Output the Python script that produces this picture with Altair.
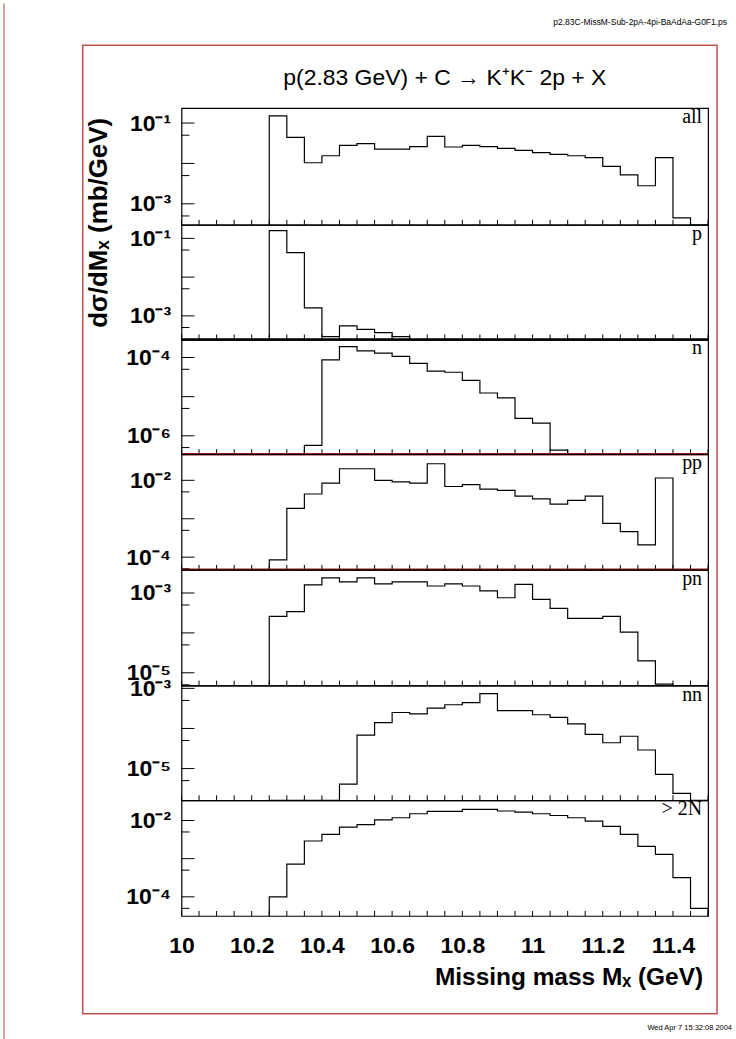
import math
import altair as alt
import pandas as pd

# ---------------- data ----------------
BIN_EDGES = [10.25, 10.30, 10.35, 10.40, 10.45, 10.50, 10.55, 10.60, 10.65,
             10.70, 10.75, 10.80, 10.85, 10.90, 10.95, 11.00, 11.05, 11.10,
             11.15, 11.20, 11.25, 11.30, 11.35, 11.40, 11.45, 11.50]

ALL = [0.15, 0.044, 0.0104, 0.0155, 0.028, 0.031, 0.0225, 0.0225, 0.026, 0.047,
       0.0255, 0.028, 0.026, 0.0235, 0.021, 0.0185, 0.0168, 0.0155, 0.014, 0.0085,
       0.0052, 0.0028, 0.014, 0.00045, 0]
P = [0.158, 0.043, 0.0016, 0.00029, 0.00055, 0.00045, 0.00037, 0.00029, 0, 0,
     0, 0, 0, 0, 0, 0, 0, 0, 0, 0, 0, 0, 0, 0, 0]
N = [0, 0, 5.7e-7, 8.7e-5, 1.9e-4, 1.48e-4, 1.3e-4, 1.07e-4, 7.1e-5, 4.5e-5,
     4.2e-5, 2.6e-5, 1.24e-5, 9.3e-6, 2.8e-6, 2.1e-6, 4.3e-7, 0, 0, 0,
     0, 0, 0, 0, 0]
PP = [8.5e-5, 1.87e-3, 4.4e-3, 8.5e-3, 0.020, 0.020, 0.010, 9.1e-3, 8.5e-3, 0.027,
      6.9e-3, 7.7e-3, 5.9e-3, 5.5e-3, 3.9e-3, 3.3e-3, 2.4e-3, 3.0e-3, 3.9e-3, 7.6e-4,
      4.6e-4, 2.1e-4, 0.0115, 0, 0]
PN = [2.6e-4, 3.4e-4, 1.6e-3, 2.4e-3, 1.9e-3, 2.4e-3, 1.7e-3, 1.9e-3, 1.9e-3, 1.5e-3,
      1.7e-3, 1.5e-3, 1.13e-3, 7.6e-4, 1.64e-3, 6.9e-4, 4.1e-4, 2.3e-4, 2.3e-4, 2.6e-4,
      1.04e-4, 2.0e-5, 5.2e-6, 0, 0]
NN = [0, 0, 0, 0, 4.1e-6, 6.8e-5, 1.4e-4, 2.5e-4, 2.3e-4, 3.2e-4,
      3.9e-4, 4.4e-4, 7.4e-4, 2.8e-4, 2.8e-4, 2.2e-4, 1.9e-4, 1.3e-4, 7.1e-5, 4.4e-5,
      6.4e-5, 2.9e-5, 7.2e-6, 2.4e-6, 0]
GT2N = [1.0e-4, 7.2e-4, 2.9e-3, 4.3e-3, 6.7e-3, 7.8e-3, 0.0104, 0.0118, 0.015, 0.0173,
        0.0173, 0.0195, 0.0195, 0.0177, 0.0166, 0.015, 0.0135, 0.0118, 0.0096, 0.0070,
        0.0043, 0.0021, 0.0013, 3.2e-4, 5e-5]

PANEL_NAMES = ["all", "p", "n", "pp", "pn", "nn", "> 2N"]
PANEL_VALUES = [ALL, P, N, PP, PN, NN, GT2N]
# log10 of axis range per panel
Y_RANGES = [(-3.52, -0.63), (-3.61, -0.65), (-6.47, -3.54), (-4.33, -1.32),
            (-5.32, -2.42), (-5.79, -2.93), (-4.50, -1.47)]
Y_LABEL_EXPONENTS = [[-1, -3], [-1, -3], [-4, -6], [-2, -4], [-3, -5], [-3, -5], [-2, -4]]
X_LABELS = [10.0, 10.2, 10.4, 10.6, 10.8, 11.0, 11.2, 11.4]

TITLE = "p(2.83 GeV) + C \u2192 K\u207aK\u207b 2p + X"
Y_TITLE = "d\u03c3/dM\u2093 (mb/GeV)"
X_TITLE = "Missing mass M\u2093 (GeV)"
HEADER = "p2.83C-MissM-Sub-2pA-4pi-BaAdAa-G0F1.ps"
FOOTER = "Wed Apr 7 15:32:08 2004"

# ---------------- layout ----------------
W = 528
PANEL_H = [117, 115, 115, 116, 116, 115, 116]
X0, Y0 = 181, 105          # page position of plot origin
PAGE_W, PAGE_H = 736, 1039
SANS = "Liberation Sans"
SERIF = "Liberation Serif"

SUP = {'-': '\u207b', '0': '\u2070', '1': '\u00b9', '2': '\u00b2', '3': '\u00b3',
       '4': '\u2074', '5': '\u2075', '6': '\u2076', '7': '\u2077', '8': '\u2078', '9': '\u2079'}


def sup(e):
    return ''.join(SUP[c] for c in str(e))


xscale = alt.Scale(domain=[10.0, 11.5], nice=False, zero=False)
x_tick_vals = [round(10.0 + 0.05 * i, 2) for i in range(31)]


def one(d):
    return pd.DataFrame([d])


def panel(idx):
    vals = PANEL_VALUES[idx]
    lo, hi = Y_RANGES[idx]
    h = PANEL_H[idx]
    floor = 10 ** lo
    bottom = idx == len(PANEL_VALUES) - 1

    pts = [(BIN_EDGES[0], floor)]
    for i, v in enumerate(vals):
        pts.append((BIN_EDGES[i], v if v > 0 else floor))
    pts.append((BIN_EDGES[-1], floor))
    df = pd.DataFrame({"x": [p[0] for p in pts], "y": [p[1] for p in pts],
                       "o": list(range(len(pts)))})

    yscale = alt.Scale(type="log", domain=[10 ** lo, 10 ** hi], nice=False, clamp=True)
    expr = "''"
    for e in Y_LABEL_EXPONENTS[idx]:
        expr = f"abs(log(datum.value)/LN10 - ({e})) < 0.01 ? '10{sup(e)}' : " + expr
    yaxis = alt.Axis(values=[10.0 ** e for e in Y_LABEL_EXPONENTS[idx]], labelExpr=expr,
                     ticks=False, domain=False, grid=False, title=None,
                     labelFont=SANS, labelFontWeight="bold", labelFontSize=23,
                     labelPadding=11, labelOverlap=False, labelFlush=False,
                     labelBound=False, labelColor="black")
    if bottom:
        xaxis = alt.Axis(values=X_LABELS, labelExpr="format(datum.value, '~g')",
                         ticks=False, domain=False, grid=False, title=None,
                         labelFont=SANS, labelFontWeight="bold", labelFontSize=23,
                         labelPadding=19, labelOverlap=False, labelFlush=False,
                         labelBound=False, labelColor="black")
    else:
        xaxis = None

    hist = alt.Chart(df).mark_line(interpolate="step-after", color="black",
                                   strokeWidth=1.2, clip=True).encode(
        x=alt.X("x:Q", scale=xscale, axis=xaxis),
        y=alt.Y("y:Q", scale=yscale, axis=yaxis),
        order="o:Q")

    # y ticks (decades long, half-decades short), drawn inward
    long_t, short_t = [], []
    for d in range(math.floor(lo) - 1, math.ceil(hi) + 2):
        for m in (1, 5):
            v = m * 10.0 ** d
            if lo <= math.log10(v) <= hi:
                (long_t if m == 1 else short_t).append(v)
    ylong = alt.Chart(pd.DataFrame({"y": long_t})).mark_rule(color="black", strokeWidth=1).encode(
        y=alt.Y("y:Q", scale=yscale, axis=yaxis), x=alt.value(0), x2=alt.value(13))
    yshort = alt.Chart(pd.DataFrame({"y": short_t})).mark_rule(color="black", strokeWidth=1).encode(
        y=alt.Y("y:Q", scale=yscale, axis=yaxis), x=alt.value(0), x2=alt.value(8))
    xt = alt.Chart(pd.DataFrame({"x": x_tick_vals})).mark_rule(color="black", strokeWidth=1).encode(
        x=alt.X("x:Q", scale=xscale, axis=xaxis), y=alt.value(h), y2=alt.value(h - 5))

    label = alt.Chart(pd.DataFrame({"t": [PANEL_NAMES[idx]]})).mark_text(
        font=SERIF, fontSize=20, align="right", baseline="alphabetic", color="black").encode(
        x=alt.value(522), y=alt.value(15), text="t:N")

    layers = []
    if idx == 0:
        page = alt.Chart(one({"a": 1})).mark_rect(fill="white", opacity=0).encode(
            x=alt.value(-X0), x2=alt.value(PAGE_W - X0),
            y=alt.value(-Y0), y2=alt.value(PAGE_H - Y0))
        frame = alt.Chart(one({"a": 1})).mark_rect(fillOpacity=0, stroke="#c05050",
                                                   strokeWidth=1.5).encode(
            x=alt.value(82 - X0), x2=alt.value(718 - X0),
            y=alt.value(42 - Y0), y2=alt.value(1013 - Y0))
        edge = alt.Chart(one({"a": 1})).mark_rule(stroke="#d08080", strokeWidth=1.5).encode(
            x=alt.value(3 - X0), y=alt.value(-Y0), y2=alt.value(PAGE_H - Y0))
        texts = [
            (TITLE, 445 - X0, 75 - Y0, "center", 23, "normal", SANS, 0),
            (HEADER, 728 - X0, 19 - Y0, "right", 8.5, "normal", SANS, 0),
            (FOOTER, 733 - X0, 1027 - Y0, "right", 7.5, "normal", SANS, 0),
            (Y_TITLE, 98 - X0, 220 - Y0, "center", 26, "bold", SANS, 270),
            (X_TITLE, 704 - X0, 977 - Y0, "right", 24.5, "bold", SANS, 0),
        ]
        tl = []
        for t, x, y, al, fs, fw, ff, ang in texts:
            tl.append(alt.Chart(pd.DataFrame({"t": [t]})).mark_text(
                align=al, baseline="middle", fontSize=fs, fontWeight=fw, font=ff,
                angle=ang, color="black").encode(x=alt.value(x), y=alt.value(y), text="t:N"))
        layers = [page, frame, edge] + tl

    extra = []
    if idx == 1:
        extra.append(alt.Chart(one({"a": 1})).mark_rule(color="black", strokeWidth=2.5).encode(
            x=alt.value(0), x2=alt.value(W), y=alt.value(h)))
    if idx in (2, 3):
        extra.append(alt.Chart(one({"a": 1})).mark_rule(color="#8b1c1c", strokeWidth=2.5).encode(
            x=alt.value(0), x2=alt.value(W), y=alt.value(h)))

    return alt.layer(*layers, hist, ylong, yshort, xt, label, *extra).properties(
        width=W, height=h)


chart = alt.vconcat(*[panel(i) for i in range(7)], spacing=0, bounds="flush").properties(
    padding=0, background="white"
).configure_view(stroke="black", strokeWidth=1.2)

chart.save("out.html", embed_options={"renderer": "svg", "actions": False})
